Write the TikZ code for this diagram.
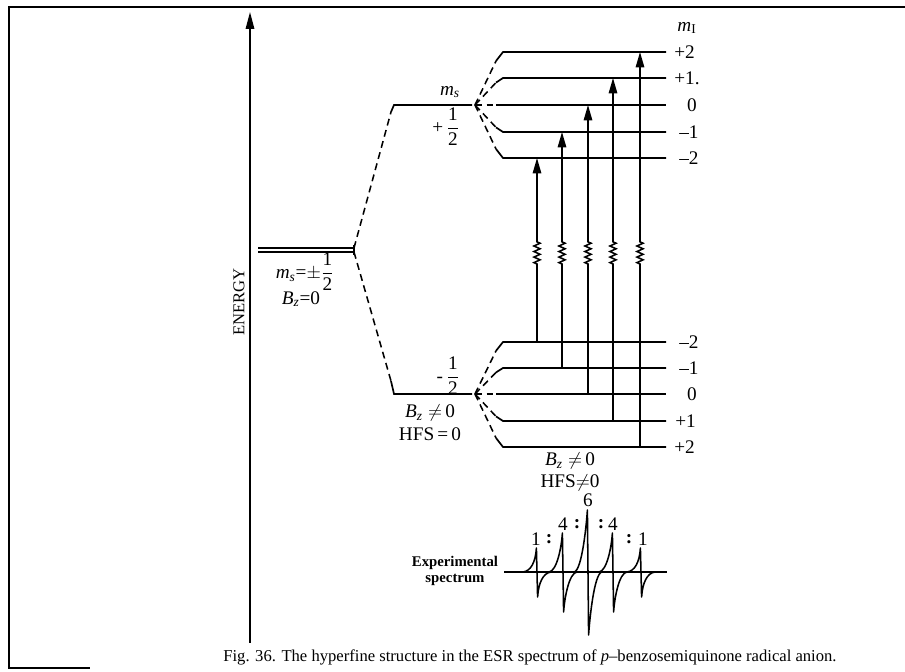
\documentclass[tikz,border=0pt]{standalone}
\usepackage{fontspec}
\usepackage{amsmath}
\setmainfont{Liberation Serif}
\usetikzlibrary{arrows.meta,decorations.pathmorphing}
\tikzset{
  lvl/.style={line width=1.1pt},
  fan/.style={line width=1pt, dash pattern=on 4.5pt off 3pt},
  trans/.style={line width=1pt, -{Triangle[length=10pt,width=5.5pt]}},
  zz/.style={decoration={zigzag,amplitude=2pt,segment length=3.6pt}},
  lab/.style={font=\fontsize{12.5}{13.5}\selectfont, inner sep=0pt},
  small/.style={font=\fontsize{10.8}{12}\selectfont, inner sep=0pt},
  frm/.style={line width=1.3pt},
  spec/.style={line width=1pt, line join=round}
}
\begin{document}
\begin{tikzpicture}[x=0.65pt,y=-0.65pt]
\useasboundingbox (0,0) rectangle (905,672);
% frame
\coordinate (f1) at (9,7); \coordinate (f2) at (905,7);
\coordinate (f3) at (9,668); \coordinate (f4) at (90,668);
\draw[frm] (f2) -- (f1) -- (f3) -- (f4);
% energy axis
\coordinate (e0) at (250,643); \coordinate (e1) at (250,12);
\draw[line width=1.1pt, -{Triangle[length=11pt,width=5.5pt]}] (e0) -- (e1);
\node[small, rotate=90] (energy) at (239,302) {ENERGY};
% degenerate level
\coordinate (d1a) at (258,248); \coordinate (d1b) at (354,248);
\coordinate (d2a) at (258,252); \coordinate (d2b) at (354,252);
\coordinate (dt1) at (354,245); \coordinate (dt2) at (354,255);
\draw[line width=0.9pt] (d1a) -- (d1b); \draw[line width=0.9pt] (d2a) -- (d2b);
\draw[line width=0.9pt] (dt1) -- (dt2);
\node[lab] (ms0) at (305,272) {$\textit{m}_{\textit{s}}$=$\pm\dfrac{\text{1}}{\text{2}}$};
\node[lab] (bz0) at (301,299) {$\textit{B}_{\textit{z}}$=0};
% electron spin levels
\coordinate (uk) at (391,112); \coordinate (us) at (394,105); \coordinate (ue) at (472,105);
\coordinate (lk) at (391,381); \coordinate (ls) at (394,394); \coordinate (le) at (472,394);
\draw[fan] (d1b) -- (uk); \draw[fan] (d2b) -- (lk);
\draw[lvl] (uk) -- (us) -- (ue);
\draw[lvl] (lk) -- (ls) -- (le);
\node[lab] (msu) at (450,92) {$\textit{m}_{\textit{s}}$};
\node[lab] (pu) at (446,127) {+\,$\dfrac{\text{1}}{\text{2}}$};
\node[lab] (pl) at (448,376) {-\,$\dfrac{\text{1}}{\text{2}}$};
\node[lab] (bz1) at (430,413) {$\textit{B}_{\textit{z}}\neq$\,0};
\node[lab] (hfs1) at (430,434) {HFS\,=\,0};
% fan vertices
\coordinate (U) at (475,105); \coordinate (L) at (475,394);
% upper nuclear levels
\foreach \n/\y in {a/52, b/78, c/105, d/132, e/158}{
  \coordinate (uk\n) at (496,{105+(\y-105)*0.83});
  \coordinate (us\n) at (503,\y);
  \coordinate (ue\n) at (666,\y);
  \draw[fan] (U) -- (uk\n);
  \draw[lvl] (uk\n) -- (us\n) -- (ue\n);
}
% lower nuclear levels
\foreach \n/\y in {a/342, b/368, c/394, d/421, e/447}{
  \coordinate (lk\n) at (496,{394+(\y-394)*0.83});
  \coordinate (ls\n) at (503,\y);
  \coordinate (le\n) at (666,\y);
  \draw[fan] (L) -- (lk\n);
  \draw[lvl] (lk\n) -- (ls\n) -- (le\n);
}
% mI labels
\node[lab] (mI) at (687,28) {$\textit{m}_{\text{I}}$};
\node[lab, anchor=west] (t1) at (674,52) {+2};
\node[lab, anchor=west] (t2) at (674,78) {+1.};
\node[lab] (t3) at (692,105) {0};
\node[lab, anchor=west] (t4) at (679,132) {–1};
\node[lab, anchor=west] (t5) at (679,158) {–2};
\node[lab, anchor=west] (b1) at (679,342) {–2};
\node[lab, anchor=west] (b2) at (679,368) {–1};
\node[lab] (b3) at (692,394) {0};
\node[lab, anchor=west] (b4) at (675,421) {+1};
\node[lab, anchor=west] (b5) at (674,447) {+2};
\node[lab] (bz2) at (570,461) {$\textit{B}_{\textit{z}}\neq$\,0};
\node[lab] (hfs2) at (570,483) {HFS$\neq$0};
% transitions
\coordinate (zlo) at (0,264); \coordinate (zhi) at (0,240);
\foreach \i/\x/\yb/\yt in {1/537/342/158, 2/562/368/132, 3/588/394/105, 4/613/421/78, 5/640/447/52}{
  \coordinate (tb\i) at (\x,\yb);
  \coordinate (tt\i) at (\x,\yt);
  \draw[trans, zz] (tb\i) -- (tb\i |- zlo) decorate {-- (tb\i |- zhi)} -- (tt\i);
}
% spectrum
\coordinate (s0) at (504,572); \coordinate (s1) at (667,572);
\draw[spec] (s0) -- (s1);
\foreach \xc/\pk/\tr in {537/548/597, 563/533/612, 588/510/635, 613/533/612, 641/548/597}{
  \draw[spec] (\xc-14,572) .. controls (\xc-6,571) and (\xc-1.5,{\pk+14}) .. (\xc-0.6,\pk)
     -- (\xc+0.6,\tr) .. controls (\xc+1.5,{\tr-14}) and (\xc+6,573) .. (\xc+14,572);
}
\node[lab] (n6) at (588,500) {6};
\node[lab] (n1a) at (536,539) {1};
\node[lab] (c1) at (549,539) {\textbf{:}};
\node[lab] (n4a) at (563,524) {4};
\node[lab] (c2) at (577,524) {\textbf{:}};
\node[lab] (c3) at (601,524) {\textbf{:}};
\node[lab] (n4b) at (613,524) {4};
\node[lab] (c4) at (629,539) {\textbf{:}};
\node[lab] (n1b) at (643,539) {1};
\node[align=center, inner sep=0pt, font=\bfseries\fontsize{9.6}{10.6}\selectfont] (exp) at (455,571) {Experimental\\spectrum};
% caption
\node[small] (cap) at (530,657) {Fig. 36. The hyperfine structure in the ESR spectrum of \textit{p}–benzosemiquinone radical anion.};
\end{tikzpicture}
\end{document}
